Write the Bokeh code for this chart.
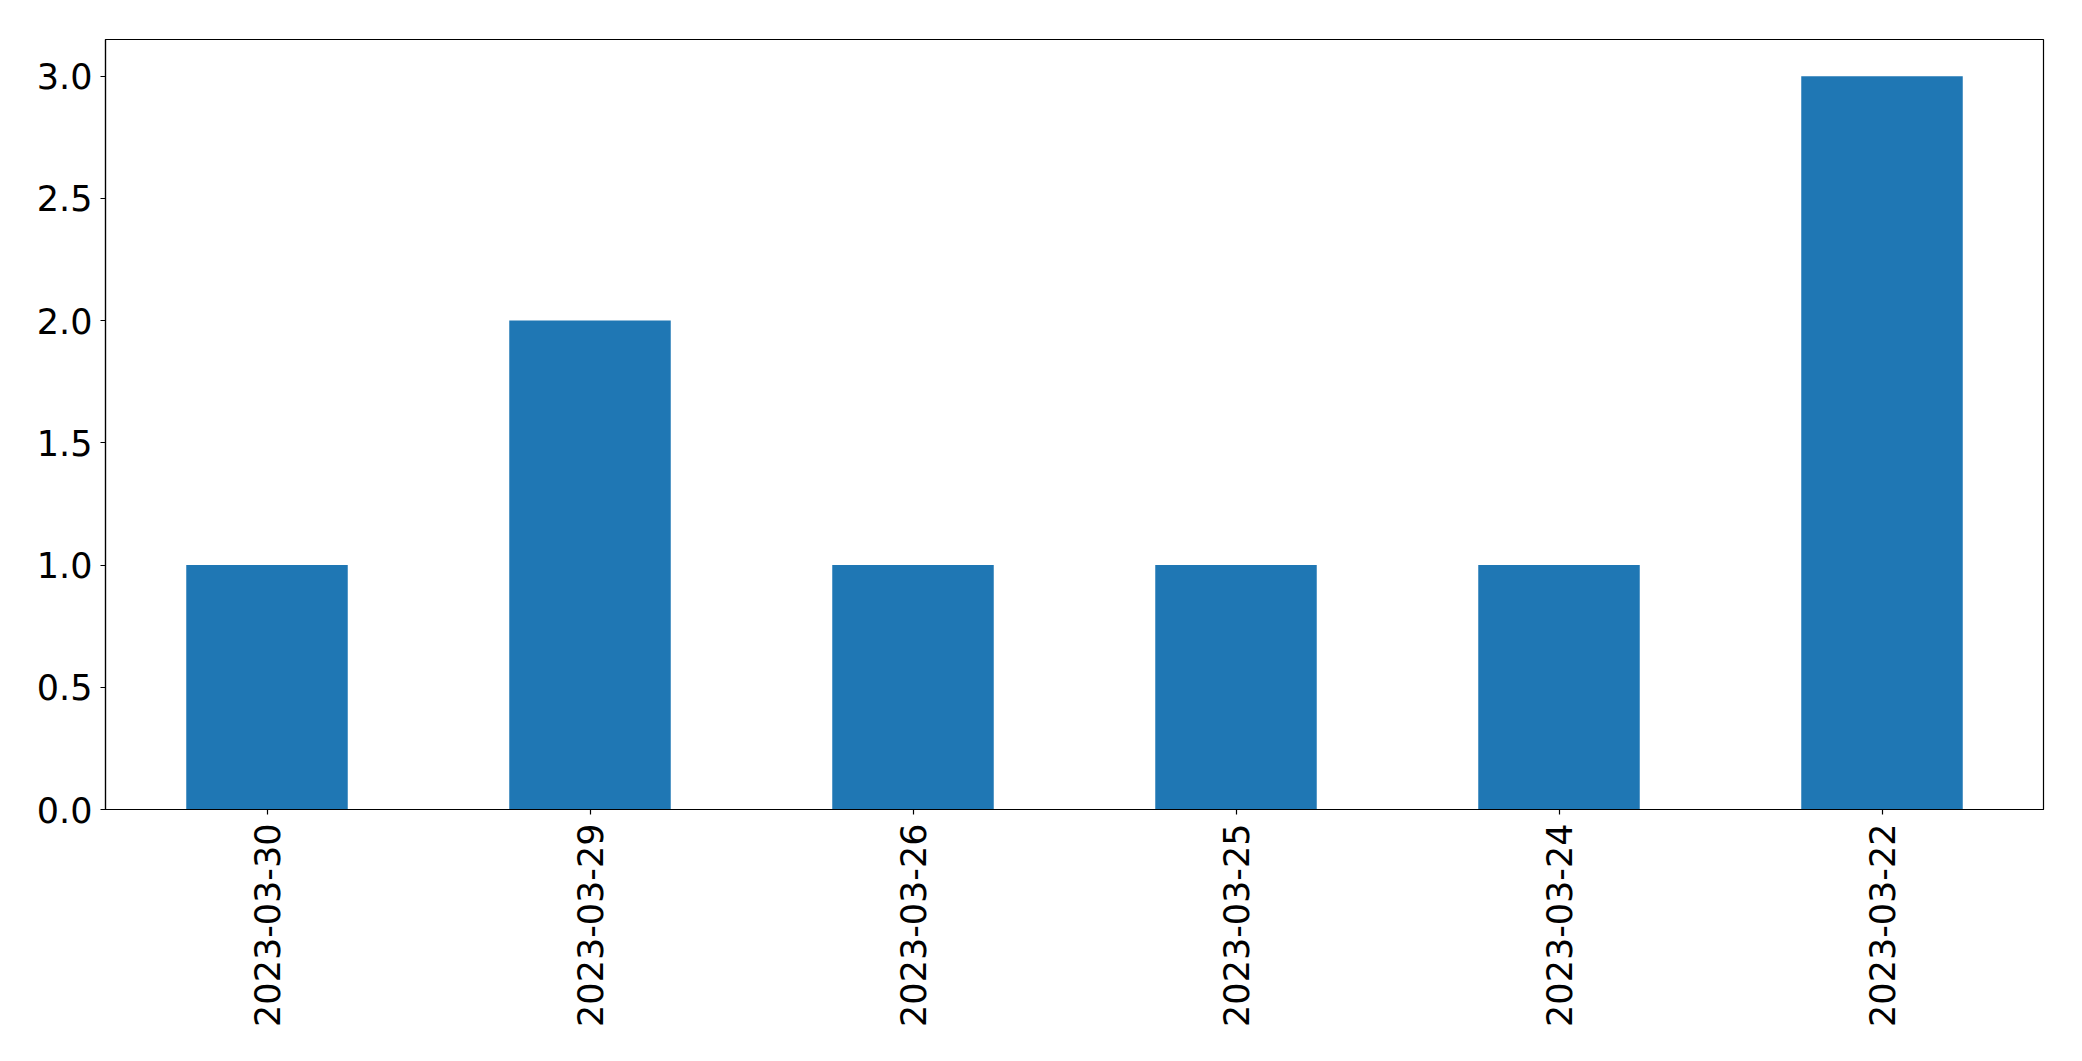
import math
from bokeh.plotting import figure
from bokeh.models import FactorRange, Range1d, FixedTicker, NumeralTickFormatter, ColumnDataSource
from bokeh.embed import file_html
from bokeh.resources import INLINE

dates = ["2023-03-30", "2023-03-29", "2023-03-26", "2023-03-25", "2023-03-24", "2023-03-22"]
counts = [1, 2, 1, 1, 1, 3]
y_ticks = [0.0, 0.5, 1.0, 1.5, 2.0, 2.5, 3.0]

source = ColumnDataSource(dict(x=dates, top=counts))

p = figure(
    x_range=FactorRange(factors=dates),
    y_range=Range1d(0, max(counts) * 1.05),
    frame_width=1938, frame_height=770,
    min_border_left=105, min_border_top=39, min_border_right=30, min_border_bottom=200,
    output_backend="svg", toolbar_location=None,
    background_fill_color="white", border_fill_color="white",
)

p.vbar(x="x", top="top", width=0.5, source=source, fill_color="#1f77b4", line_color=None)

p.xgrid.visible = False
p.ygrid.visible = False
p.outline_line_color = "black"
p.outline_line_alpha = 1.0
p.outline_line_width = 1.2

for ax in (p.xaxis[0], p.yaxis[0]):
    ax.axis_line_color = "black"
    ax.axis_line_width = 1.2
    ax.major_tick_line_color = "black"
    ax.major_tick_line_width = 1.2
    ax.major_tick_out = 5
    ax.major_tick_in = 0
    ax.minor_tick_line_color = None
    ax.major_label_text_font = "DejaVu Sans"
    ax.major_label_text_font_size = "35px"
    ax.major_label_text_color = "black"

p.yaxis[0].ticker = FixedTicker(ticks=y_ticks)
p.yaxis[0].formatter = NumeralTickFormatter(format="0.0")
p.yaxis[0].major_label_standoff = 8
p.xaxis[0].major_label_orientation = math.pi / 2
p.xaxis[0].major_label_standoff = 9

open("out.html", "w").write(file_html(p, INLINE))
